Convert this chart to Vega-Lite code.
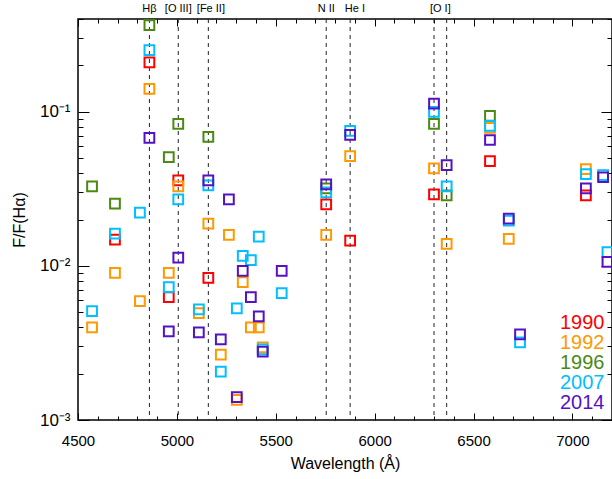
{
  "$schema": "https://vega.github.io/schema/vega-lite/v6.json",
  "width": 534,
  "height": 401,
  "autosize": {"type": "none"},
  "padding": {"left": 78, "top": 19, "right": 0, "bottom": 59},
  "background": "white",
  "config": {
    "view": {"stroke": "#000", "strokeWidth": 1.5},
    "font": "Liberation Sans",
    "axis": {"grid": false, "domain": false, "tickColor": "#000", "tickWidth": 1, "labelColor": "#000", "titleColor": "#000", "labelFont": "Liberation Sans", "titleFont": "Liberation Sans", "titleFontWeight": "normal"}
  },
  "datasets": {
    "pts": [
      {"year": "1990", "wl": 4687, "r": 0.0148}, {"year": "1990", "wl": 4861, "r": 0.209}, {"year": "1990", "wl": 4959, "r": 0.00627}, {"year": "1990", "wl": 5007, "r": 0.0359}, {"year": "1990", "wl": 5159, "r": 0.00835}, {"year": "1990", "wl": 5755, "r": 0.0251}, {"year": "1990", "wl": 5876, "r": 0.0146}, {"year": "1990", "wl": 6300, "r": 0.0291}, {"year": "1990", "wl": 6583, "r": 0.0478}, {"year": "1990", "wl": 7068, "r": 0.0287},
      {"year": "1992", "wl": 4571, "r": 0.00399}, {"year": "1992", "wl": 4687, "r": 0.009}, {"year": "1992", "wl": 4813, "r": 0.0059}, {"year": "1992", "wl": 4861, "r": 0.141}, {"year": "1992", "wl": 4959, "r": 0.009}, {"year": "1992", "wl": 5007, "r": 0.0328}, {"year": "1992", "wl": 5111, "r": 0.00493}, {"year": "1992", "wl": 5159, "r": 0.0188}, {"year": "1992", "wl": 5222, "r": 0.00266}, {"year": "1992", "wl": 5263, "r": 0.0159}, {"year": "1992", "wl": 5303, "r": 0.00135}, {"year": "1992", "wl": 5333, "r": 0.00786}, {"year": "1992", "wl": 5374, "r": 0.00399}, {"year": "1992", "wl": 5414, "r": 0.00399}, {"year": "1992", "wl": 5434, "r": 0.00296}, {"year": "1992", "wl": 5755, "r": 0.0159}, {"year": "1992", "wl": 5876, "r": 0.0516}, {"year": "1992", "wl": 6300, "r": 0.043}, {"year": "1992", "wl": 6364, "r": 0.0139}, {"year": "1992", "wl": 6583, "r": 0.0786}, {"year": "1992", "wl": 6678, "r": 0.015}, {"year": "1992", "wl": 7068, "r": 0.0424},
      {"year": "1996", "wl": 4571, "r": 0.0328}, {"year": "1996", "wl": 4687, "r": 0.0254}, {"year": "1996", "wl": 4861, "r": 0.365}, {"year": "1996", "wl": 4959, "r": 0.0508}, {"year": "1996", "wl": 5007, "r": 0.0835}, {"year": "1996", "wl": 5159, "r": 0.0687}, {"year": "1996", "wl": 5755, "r": 0.0318}, {"year": "1996", "wl": 6300, "r": 0.0835}, {"year": "1996", "wl": 6364, "r": 0.0287}, {"year": "1996", "wl": 6583, "r": 0.0942},
      {"year": "2007", "wl": 4571, "r": 0.00508}, {"year": "2007", "wl": 4687, "r": 0.0162}, {"year": "2007", "wl": 4813, "r": 0.0222}, {"year": "2007", "wl": 4861, "r": 0.251}, {"year": "2007", "wl": 4959, "r": 0.00729}, {"year": "2007", "wl": 5007, "r": 0.027}, {"year": "2007", "wl": 5111, "r": 0.00523}, {"year": "2007", "wl": 5159, "r": 0.0333}, {"year": "2007", "wl": 5222, "r": 0.00206}, {"year": "2007", "wl": 5303, "r": 0.00531}, {"year": "2007", "wl": 5333, "r": 0.0116}, {"year": "2007", "wl": 5374, "r": 0.0109}, {"year": "2007", "wl": 5414, "r": 0.0155}, {"year": "2007", "wl": 5434, "r": 0.00287}, {"year": "2007", "wl": 5530, "r": 0.00666}, {"year": "2007", "wl": 5755, "r": 0.03}, {"year": "2007", "wl": 5876, "r": 0.0751}, {"year": "2007", "wl": 6300, "r": 0.1}, {"year": "2007", "wl": 6364, "r": 0.0328}, {"year": "2007", "wl": 6583, "r": 0.0809}, {"year": "2007", "wl": 6678, "r": 0.0197}, {"year": "2007", "wl": 6735, "r": 0.00319}, {"year": "2007", "wl": 7068, "r": 0.0394}, {"year": "2007", "wl": 7155, "r": 0.0388}, {"year": "2007", "wl": 7177, "r": 0.0123},
      {"year": "2014", "wl": 4861, "r": 0.0676}, {"year": "2014", "wl": 4959, "r": 0.00376}, {"year": "2014", "wl": 5007, "r": 0.0113}, {"year": "2014", "wl": 5111, "r": 0.0037}, {"year": "2014", "wl": 5159, "r": 0.0359}, {"year": "2014", "wl": 5222, "r": 0.00333}, {"year": "2014", "wl": 5263, "r": 0.027}, {"year": "2014", "wl": 5303, "r": 0.00141}, {"year": "2014", "wl": 5333, "r": 0.00927}, {"year": "2014", "wl": 5374, "r": 0.00627}, {"year": "2014", "wl": 5414, "r": 0.00471}, {"year": "2014", "wl": 5434, "r": 0.00278}, {"year": "2014", "wl": 5530, "r": 0.00927}, {"year": "2014", "wl": 5755, "r": 0.0338}, {"year": "2014", "wl": 5876, "r": 0.0708}, {"year": "2014", "wl": 6300, "r": 0.113}, {"year": "2014", "wl": 6364, "r": 0.0451}, {"year": "2014", "wl": 6583, "r": 0.0656}, {"year": "2014", "wl": 6678, "r": 0.0203}, {"year": "2014", "wl": 6735, "r": 0.00359}, {"year": "2014", "wl": 7068, "r": 0.0318}, {"year": "2014", "wl": 7155, "r": 0.0376}, {"year": "2014", "wl": 7177, "r": 0.0106}
    ],
    "lines": [{"wl": 4861}, {"wl": 5007}, {"wl": 5159}, {"wl": 5755}, {"wl": 5876}, {"wl": 6300}, {"wl": 6364}],
    "labels": [
      {"label": "Hβ", "wl": 4861}, {"label": "[O III]", "wl": 5007}, {"label": "[Fe II]", "wl": 5172},
      {"label": "N II", "wl": 5755}, {"label": "He I", "wl": 5900}, {"label": "[O I]", "wl": 6332}
    ]
  },
  "resolve": {"axis": {"x": "independent", "y": "independent"}},
  "layer": [
    {
      "data": {"name": "lines"},
      "mark": {"type": "rule", "strokeDash": [4, 4], "color": "#222", "strokeWidth": 1},
      "encoding": {
        "x": {"field": "wl", "type": "quantitative", "scale": {"domain": [4500, 7200], "nice": false, "zero": false},
          "axis": {"orient": "bottom", "values": [4600, 4700, 4800, 4900, 5100, 5200, 5300, 5400, 5600, 5700, 5800, 5900, 6100, 6200, 6300, 6400, 6600, 6700, 6800, 6900, 7100], "tickSize": -4, "labels": false, "title": null}}
      }
    },
    {
      "data": {"name": "pts"},
      "mark": {"type": "point", "opacity": 0},
      "encoding": {
        "x": {"field": "wl", "type": "quantitative", "scale": {"domain": [4500, 7200], "nice": false, "zero": false},
          "axis": {"orient": "top", "values": [4600, 4700, 4800, 4900, 5100, 5200, 5300, 5400, 5600, 5700, 5800, 5900, 6100, 6200, 6300, 6400, 6600, 6700, 6800, 6900, 7100], "tickSize": -4, "labels": false, "title": null}},
        "y": {"field": "r", "type": "quantitative", "scale": {"type": "log", "domain": [0.001, 0.4], "nice": false},
          "axis": {"orient": "left", "values": [0.002, 0.003, 0.004, 0.005, 0.006, 0.007, 0.008, 0.009, 0.02, 0.03, 0.04, 0.05, 0.06, 0.07, 0.08, 0.09, 0.2, 0.3, 0.4], "tickSize": -5, "labels": false, "title": null}}
      }
    },
    {
      "data": {"name": "pts"},
      "mark": {"type": "point", "opacity": 0},
      "encoding": {
        "x": {"field": "wl", "type": "quantitative", "scale": {"domain": [4500, 7200], "nice": false, "zero": false}, "axis": null},
        "y": {"field": "r", "type": "quantitative", "scale": {"type": "log", "domain": [0.001, 0.4], "nice": false},
          "axis": {"orient": "right", "values": [0.002, 0.003, 0.004, 0.005, 0.006, 0.007, 0.008, 0.009, 0.02, 0.03, 0.04, 0.05, 0.06, 0.07, 0.08, 0.09, 0.2, 0.3, 0.4], "tickSize": -5, "labels": false, "title": null}}
      }
    },
    {
      "data": {"name": "pts"},
      "mark": {"type": "point", "shape": "square", "filled": false, "size": 95, "strokeWidth": 2, "opacity": 1},
      "encoding": {
        "x": {"field": "wl", "type": "quantitative", "scale": {"domain": [4500, 7200], "nice": false, "zero": false},
          "axis": {"orient": "bottom", "values": [4500, 5000, 5500, 6000, 6500, 7000], "format": "d", "tickSize": -7, "labelPadding": 20, "labelFontSize": 15, "labelFlush": false, "title": "Wavelength (Å)", "titleFontSize": 16, "titlePadding": 7}},
        "y": {"field": "r", "type": "quantitative", "scale": {"type": "log", "domain": [0.001, 0.4], "nice": false},
          "axis": {"orient": "left", "values": [0.001, 0.01, 0.1], "tickSize": -11, "labelPadding": 19, "labelFontSize": 17, "labelExpr": "datum.value < 0.005 ? '10⁻³' : datum.value < 0.05 ? '10⁻²' : '10⁻¹'", "title": "F/F(Hα)", "titleFontSize": 16, "titlePadding": 12}},
        "color": {"field": "year", "type": "nominal",
          "scale": {"domain": ["1990", "1992", "1996", "2007", "2014"], "range": ["#FF0000", "#FF9900", "#4A8A12", "#00BFFF", "#5512C4"]},
          "legend": {"orient": "bottom-right", "title": null, "offset": 7, "padding": 0, "symbolSize": 0, "symbolOpacity": 0, "symbolStrokeWidth": 0, "labelOffset": 0, "labelFontSize": 20, "labelFont": "Liberation Sans", "rowPadding": -1,
            "labelColor": {"expr": "scale('color', datum.value)"},
            "encode": {"labels": {"update": {"fill": {"signal": "scale('color', datum.value)"}}}}}}
      }
    },
    {
      "data": {"name": "labels"},
      "mark": {"type": "text", "fontSize": 11, "color": "#000", "baseline": "middle", "align": "center"},
      "encoding": {
        "x": {"field": "wl", "type": "quantitative", "scale": {"domain": [4500, 7200], "nice": false, "zero": false},
          "axis": {"orient": "top", "values": [4500, 5000, 5500, 6000, 6500, 7000], "tickSize": -7, "labels": false, "title": null}},
        "y": {"datum": 0.465, "type": "quantitative", "scale": {"type": "log", "domain": [0.001, 0.4], "nice": false},
          "axis": {"orient": "right", "values": [0.001, 0.01, 0.1], "tickSize": -11, "labels": false, "title": null}},
        "text": {"field": "label"}
      }
    }
  ]
}
